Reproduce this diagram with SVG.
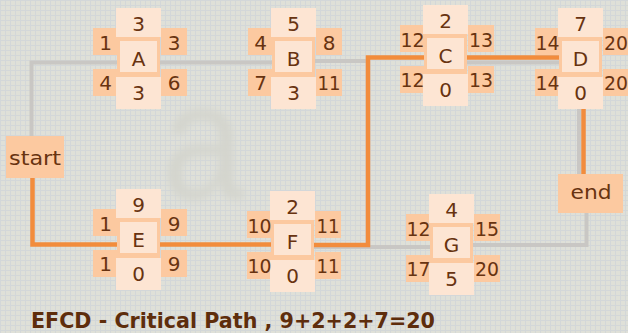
<svg xmlns="http://www.w3.org/2000/svg" xmlns:xlink="http://www.w3.org/1999/xlink" width="628" height="333" viewBox="0 0 628 333">
<defs>
<pattern id="grid" width="5" height="5" patternUnits="userSpaceOnUse">
<rect width="5" height="5" fill="#dfe0d8"/>
<path d="M0 0.5H5M0.5 0V5" stroke="#d3d7d9" stroke-width="1"/>
</pattern>
<filter id="soft" x="-20%" y="-20%" width="140%" height="140%">
<feGaussianBlur stdDeviation="4"/>
</filter>
<style>
.side{fill:#fcc9a0}
.lite{fill:#fde5d3}
.mid{fill:#fde5d3;stroke:#fcc9a0;stroke-width:2}
.t{font-family:"DejaVu Sans",sans-serif;font-size:20px;fill:#683310;text-anchor:middle}
.gray{fill:none;stroke:#c9c7c4;stroke-width:4}
.orange{fill:none;stroke:#f28c3c;stroke-width:4.5}
</style>
<g id="boxes">
<rect class="side" x="0" y="20" width="25" height="27"/>
<rect class="side" x="68" y="20" width="26" height="27"/>
<rect class="side" x="0" y="61" width="25" height="27"/>
<rect class="side" x="68" y="61" width="26" height="27"/>
<rect class="side" x="24" y="26" width="43" height="46"/>
<rect class="lite" x="23" y="0" width="45" height="29"/>
<rect class="lite" x="23" y="69" width="45" height="32"/>
<rect class="mid" x="26" y="32" width="39" height="33"/>
</g>
</defs>
<rect width="628" height="333" fill="url(#grid)"/>
<text x="203" y="198" font-family="Liberation Sans, sans-serif" font-size="165" fill="#d4d5ce" text-anchor="middle" filter="url(#soft)" transform="translate(203,0) scale(0.9,1) translate(-203,0)">a</text>

<g id="connectors">
<path class="gray" d="M31.5,136 V62.5 H120"/>
<path class="gray" d="M157,62.5 H276"/>
<path class="gray" d="M313,61 H368"/>
<path class="gray" d="M312,247 H433"/>
<path class="gray" d="M463,62.5 H563"/>
<path class="gray" d="M579,107 V174"/>
<path class="gray" d="M586.5,213 V245 H470"/>
<path class="orange" d="M32.5,178 V244.5 H120"/>
<path class="orange" d="M157,244.5 H274"/>
<path class="orange" d="M311,245 H368 V57.5 H427"/>
<path class="orange" d="M463,57.5 H563"/>
<path class="orange" d="M583.5,107 V174"/>
</g>

<g id="start">
<rect class="side" x="6" y="136" width="58" height="42"/>
<text class="t" x="35" y="165" textLength="52" lengthAdjust="spacingAndGlyphs">start</text>
</g>
<g id="end">
<rect class="side" x="558" y="174" width="65" height="39"/>
<text class="t" x="591" y="199" textLength="41" lengthAdjust="spacingAndGlyphs">end</text>
</g>

<g id="nodeA" transform="translate(93,8)">
<use xlink:href="#boxes"/>
<text class="t" x="45.5" y="23">3</text>
<text class="t" x="12.5" y="42">1</text>
<text class="t" x="81" y="42">3</text>
<text class="t" x="45.5" y="58">A</text>
<text class="t" x="12.5" y="82">4</text>
<text class="t" x="81" y="82">6</text>
<text class="t" x="45.5" y="92">3</text>
</g>
<g id="nodeB" transform="translate(248,8)">
<use xlink:href="#boxes"/>
<text class="t" x="45.5" y="23">5</text>
<text class="t" x="12.5" y="42">4</text>
<text class="t" x="81" y="42">8</text>
<text class="t" x="45.5" y="58">B</text>
<text class="t" x="12.5" y="82">7</text>
<text class="t" x="81" y="82" textLength="23" lengthAdjust="spacingAndGlyphs">11</text>
<text class="t" x="45.5" y="92">3</text>
</g>
<g id="nodeC" transform="translate(400,5)">
<use xlink:href="#boxes"/>
<text class="t" x="45.5" y="23">2</text>
<text class="t" x="12.5" y="42" textLength="24" lengthAdjust="spacingAndGlyphs">12</text>
<text class="t" x="81" y="42" textLength="24" lengthAdjust="spacingAndGlyphs">13</text>
<text class="t" x="45.5" y="58">C</text>
<text class="t" x="12.5" y="82" textLength="24" lengthAdjust="spacingAndGlyphs">12</text>
<text class="t" x="81" y="82" textLength="24" lengthAdjust="spacingAndGlyphs">13</text>
<text class="t" x="45.5" y="92">0</text>
</g>
<g id="nodeD" transform="translate(535,8)">
<use xlink:href="#boxes"/>
<text class="t" x="45.5" y="23">7</text>
<text class="t" x="12.5" y="42" textLength="24" lengthAdjust="spacingAndGlyphs">14</text>
<text class="t" x="81" y="42" textLength="24" lengthAdjust="spacingAndGlyphs">20</text>
<text class="t" x="45.5" y="58">D</text>
<text class="t" x="12.5" y="82" textLength="24" lengthAdjust="spacingAndGlyphs">14</text>
<text class="t" x="81" y="82" textLength="24" lengthAdjust="spacingAndGlyphs">20</text>
<text class="t" x="45.5" y="92">0</text>
</g>
<g id="nodeE" transform="translate(93,189)">
<use xlink:href="#boxes"/>
<text class="t" x="45.5" y="23">9</text>
<text class="t" x="12.5" y="42">1</text>
<text class="t" x="81" y="42">9</text>
<text class="t" x="45.5" y="58">E</text>
<text class="t" x="12.5" y="82">1</text>
<text class="t" x="81" y="82">9</text>
<text class="t" x="45.5" y="92">0</text>
</g>
<g id="nodeF" transform="translate(247,191)">
<use xlink:href="#boxes"/>
<text class="t" x="45.5" y="23">2</text>
<text class="t" x="12.5" y="42" textLength="24" lengthAdjust="spacingAndGlyphs">10</text>
<text class="t" x="81" y="42" textLength="23" lengthAdjust="spacingAndGlyphs">11</text>
<text class="t" x="45.5" y="58">F</text>
<text class="t" x="12.5" y="82" textLength="24" lengthAdjust="spacingAndGlyphs">10</text>
<text class="t" x="81" y="82" textLength="23" lengthAdjust="spacingAndGlyphs">11</text>
<text class="t" x="45.5" y="92">0</text>
</g>
<g id="nodeG" transform="translate(406,194)">
<use xlink:href="#boxes"/>
<text class="t" x="45.5" y="23">4</text>
<text class="t" x="12.5" y="42" textLength="24" lengthAdjust="spacingAndGlyphs">12</text>
<text class="t" x="81" y="42" textLength="24" lengthAdjust="spacingAndGlyphs">15</text>
<text class="t" x="45.5" y="58">G</text>
<text class="t" x="12.5" y="82" textLength="24" lengthAdjust="spacingAndGlyphs">17</text>
<text class="t" x="81" y="82" textLength="24" lengthAdjust="spacingAndGlyphs">20</text>
<text class="t" x="45.5" y="92">5</text>
</g>

<text x="31" y="328" font-family="DejaVu Sans, sans-serif" font-size="22" font-weight="bold" fill="#5e2d0c" textLength="404" lengthAdjust="spacingAndGlyphs">EFCD - Critical Path , 9+2+2+7=20</text>
</svg>
